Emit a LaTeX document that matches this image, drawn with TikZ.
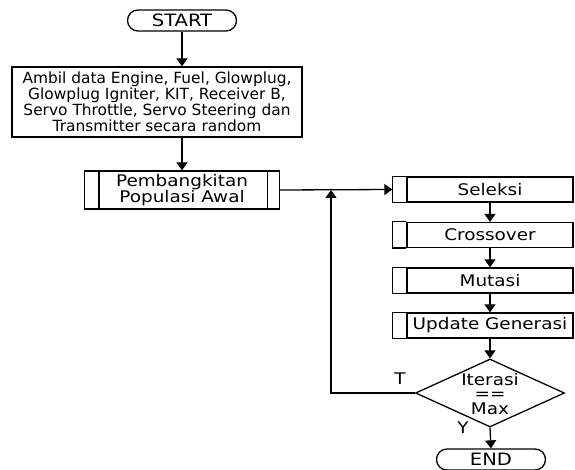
\documentclass[tikz,border=0pt]{standalone}
\usepackage{fontspec}
\setmainfont{DejaVu Sans}
\newfontfamily\widefont[FakeStretch=1.15]{DejaVu Sans}
\usetikzlibrary{shapes.geometric,arrows.meta}
\begin{document}
\begin{tikzpicture}[x=1pt,y=-1pt,
  every node/.style={font=\widefont\fontsize{16}{16}\selectfont},
  term/.style={draw,line width=1.3pt,rounded corners=10.5pt,minimum width=109pt,minimum height=21pt,inner sep=0pt,font=\widefont\fontsize{17}{17}\selectfont},
  box/.style={draw,line width=1.3pt,inner sep=0pt,align=center},
  arr/.style={line width=1.3pt,-{Triangle[length=8pt,width=11pt]}},
  ln/.style={line width=1.3pt}]
\useasboundingbox (0,0) rectangle (575,470);
% start
\node[term] (start) at (182,20.5) {START};
% data box
\node[box,minimum width=290pt,minimum height=70pt,font=\rmfamily\fontsize{15.4}{16}\selectfont] (data) at (157,102)
  {Ambil data Engine, Fuel, Glowplug,\\Glowplug Igniter, KIT, Receiver B,\\Servo Throttle, Servo Steering dan\\Transmitter secara random};
% pembangkitan
\node[box,minimum width=195pt,minimum height=38pt] (pop) at (182,190)
  {Pembangkitan\\Populasi Awal};
\draw[ln] ([xshift=15pt]pop.north west) -- ([xshift=15pt]pop.south west);
\draw[ln] ([xshift=-13pt]pop.north east) -- ([xshift=-13pt]pop.south east);
% right column processes
\node[box,minimum width=166pt,minimum height=25pt] (sel) at (490,189.5) {Seleksi};
\node[box,minimum width=166pt,minimum height=25pt] (cro) at (490,235) {Crossover};
\node[box,minimum width=166pt,minimum height=25pt] (mut) at (490,280.5) {Mutasi};
\node[box,minimum width=166pt,minimum height=25pt] (upd) at (490,325.5) {Update Generasi};
\foreach \n in {sel,cro,mut,upd}{
  \draw[ln] (\n.north west) -- ++(-14pt,0) |- (\n.south west);
}
\coordinate (selL) at ([xshift=-14pt]sel.west);
% decision
\node[draw,line width=1.3pt,diamond,minimum width=149pt,minimum height=68pt,inner sep=0pt] (dia) at (490,393) {};
\node[align=center,font=\widefont\fontsize{16}{14.5}\selectfont] (diatxt) at (490,394) {Iterasi\\==\\Max};
% end
\node[term] (end) at (491,459.5) {END};
% connectors
\draw[arr] (start.south) -- (start.south |- data.north);
\draw[arr] (pop.north |- data.south) -- (pop.north);
\draw[arr] (pop.east) -- (selL);
\draw[arr] (sel.south) -- (cro.north);
\draw[arr] (cro.south) -- (mut.north);
\draw[arr] (mut.south) -- (upd.north);
\draw[arr] (upd.south) -- (dia.north);
\draw[arr] (dia.south) -- (end.north);
\coordinate (loopTop) at (331,190);
\draw[arr] (dia.west) -| (loopTop);
% labels
\node (lt) at (400,379) {T};
\node (ly) at (463,428) {Y};
\end{tikzpicture}
\end{document}
